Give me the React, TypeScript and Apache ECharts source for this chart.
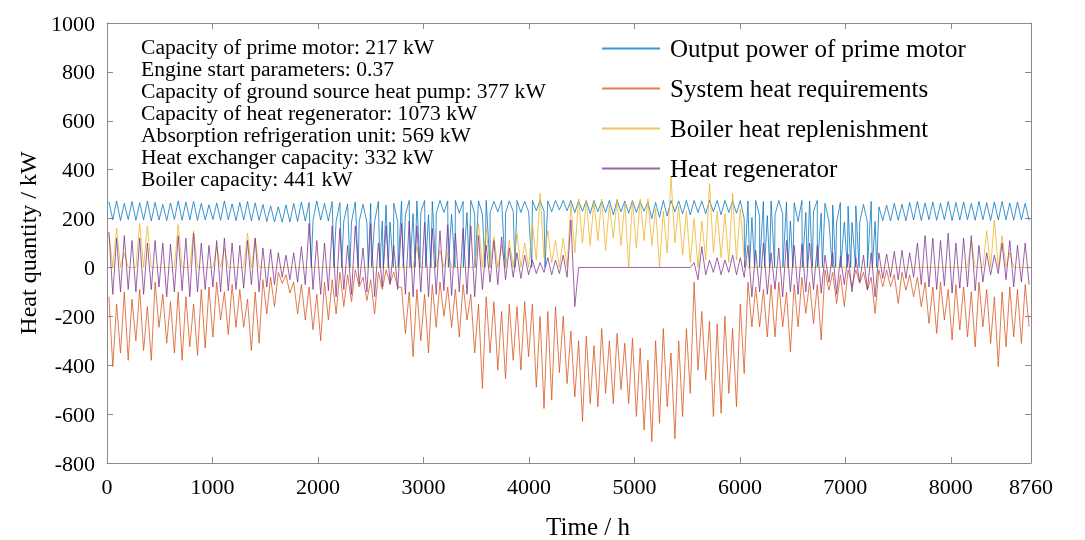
import React, { useEffect, useRef } from "react";
import * as echarts from "echarts";

// Each year is read in 120 segments of 73 h: one daily-peak value and one daily-trough value per segment.
const SEG_HOURS = 73;
const X_TICKS = [0, 1000, 2000, 3000, 4000, 5000, 6000, 7000, 8000, 8760];
const SERIES_NAMES = [
  "Output power of prime motor",
  "System heat requirements",
  "Boiler heat replenishment",
  "Heat regenerator",
];
const NOTES = [
  "Capacity of prime motor: 217 kW",
  "Engine start parameters: 0.37",
  "Capacity of ground source heat pump: 377 kW",
  "Capacity of heat regenerator: 1073 kW",
  "Absorption refrigeration unit: 569 kW",
  "Heat exchanger capacity: 332 kW",
  "Boiler capacity: 441 kW",
];

const blueHigh = [
  268, 272, 262, 270, 265, 272, 266, 258, 264, 272, 268, 270, 262, 256, 264, 272, 260, 266, 270, 264,
  258, 252, 248, 256, 262, 268, 266, 272, 262, 270,
  265, 260, 268, 258, 262, 270, 255, 262, 272, 274, 272, 274, 270, 274, 272, 274, 270, 274, 272, 274,
  270, 274, 272, 274, 270, 274, 274, 272, 274, 274,
  274, 272, 274, 274, 272, 274, 274, 272, 274, 270, 268, 266, 274, 274, 272, 274, 274, 272, 274, 274,
  274, 272, 274, 272, 274, 270, 272, 274, 268, 265,
  274, 272, 274, 262, 255, 265, 250, 252, 258, 270, 248, 255, 262, 258, 266, 270, 264, 268, 262, 270,
  266, 268, 262, 270, 265, 268, 270, 264, 268, 262,
];
const blueLow = [
  195, 192, 196, 193, 195, 190, 194, 192, 196, 193, 195, 192, 195, 196, 193, 195, 192, 194, 190, 193,
  188, 186, 185, 186, 188, 190, 192, 194, 190, 188,
  190, 186, 188, 185, 187, 190, 186, 188, 215, 220, 225, 215, 220, 225, 218, 222, 225, 220, 218, 225,
  228, 222, 230, 225, 228, 232, 230, 228, 235, 232,
  225, 230, 220, 228, 225, 215, 228, 222, 225, 230, 200, 205, 210, 228, 220, 215, 225, 220, 228, 215,
  225, 222, 200, 205, 210, 212, 215, 220, 190, 188,
  225, 230, 222, 190, 186, 185, 184, 186, 185, 188, 192, 190, 193, 191, 194, 192, 195, 193, 195, 192,
  194, 195, 193, 195, 192, 194, 195, 193, 195, 192,
];
// hours at which the prime motor is switched off (output drops to 0)
const blueOffHours = [
  1936, 2151, 2224, 2303, 2382, 2477, 2508, 2587, 2619, 2666, 2714, 2761, 2809, 2872, 2920, 2967,
  3021, 3071, 3116, 3236, 3299, 3378, 3432, 3489, 3584, 3631, 3774, 3868, 4027, 4153,
  6045, 6092, 6140, 6187, 6234, 6282, 6329, 6408, 6456, 6503, 6592, 6639, 6687, 6734, 6782,
  6876, 6908, 6956, 7019, 7050, 7098, 7130, 7209, 7256, 7297,
];

const orangeHigh = [
  -120, -150, -100, -130, -90, -160, -60, -110, -140, -100, -120, -150, -90, -80, -60, -100, -70, -90, -130, -100,
  -50, -40, -20, -30, -60, -70, -80, -110, -60, -50,
  -20, -30, -10, -40, -50, -20, -10, -20, -80, -100, -90, -110, -70, -60, -80, -90, -70, -110, -150, -120,
  -140, -180, -150, -160, -140, -150, -200, -180, -160, -200,
  -260, -300, -280, -320, -250, -300, -270, -310, -290, -330, -380, -300, -250, -350, -300, -250, -60, -180, -220, -230,
  -200, -250, -150, -60, -80, -90, -70, -60, -100, -70,
  -40, -60, -70, -10, -20, -30, -10, -10, -20, -40, -10, -10, -30, -20, -30, -40, -60, -80, -60, -90,
  -70, -80, -100, -60, -90, -120, -100, -80, -90, -70,
];
const orangeLow = [
  -405, -350, -380, -300, -340, -380, -245, -310, -350, -380, -325, -360, -330, -285, -215, -275, -245, -245, -340, -310,
  -190, -160, -65, -105, -190, -215, -255, -300, -215, -190,
  -160, -140, -80, -135, -190, -90, -65, -80, -270, -365, -300, -350, -245, -200, -245, -285, -215, -350, -495, -350,
  -420, -455, -380, -420, -365, -490, -577, -543, -430, -475,
  -530, -630, -557, -570, -515, -557, -500, -557, -610, -665, -713, -638, -570, -700, -610, -515, -420, -460, -610, -597,
  -515, -570, -434, -243, -243, -284, -284, -243, -345, -243,
  -188, -230, -297, -93, -147, -160, -79, -65, -93, -188, -79, -79, -147, -93, -120, -160, -229, -270, -215, -297,
  -256, -284, -325, -243, -311, -406, -325, -284, -311, -243,
];

const yellowHigh = [
  140, 160, 60, 0, 180, 170, 0, 0, 0, 175, 0, 150, 0, 0, 85, 80, 0, 0, 140, 120,
  0, 0, 0, 0, 0, 0, 0, 0, 0, 0,
  0, 0, 0, 0, 0, 0, 0, 0, 0, 0, 85, 0, 0, 70, 60, 0, 0, 0, 180, 160,
  125, 90, 110, 140, 100, 180, 303, 150, 110, 120,
  260, 280, 275, 270, 280, 255, 280, 265, 275, 280, 280, 240, 230, 371, 250, 230, 200, 190, 343, 230,
  220, 303, 240, 0, 0, 0, 0, 0, 0, 0,
  0, 0, 0, 0, 0, 0, 0, 0, 0, 0, 0, 0, 0, 0, 0, 0, 0, 0, 0, 0,
  0, 0, 110, 0, 150, 194, 130, 60, 0, 0,
];
const yellowLow = [
  0, 0, 0, 0, 0, 0, 0, 0, 0, 0, 0, 0, 0, 0, 0, 0, 0, 0, 0, 0,
  0, 0, 0, 0, 0, 0, 0, 0, 0, 0,
  0, 0, 0, 0, 0, 0, 0, 0, 0, 0, 0, 0, 0, 0, 0, 0, 0, 0, 0, 0,
  0, 0, 0, 0, 0, 30, 40, 20, 0, 0,
  60, 100, 90, 110, 70, 120, 90, 0, 80, 110, 90, 0, 60, 100, 50, 20, 0, 30, 60, 40,
  20, 30, 40, 0, 0, 0, 0, 0, 0, 0,
  0, 0, 0, 0, 0, 0, 0, 0, 0, 0, 0, 0, 0, 0, 0, 0, 0, 0, 0, 0,
  0, 0, 0, 0, 0, 0, 0, 0, 0, 0,
];

const purpleHigh = [
  145, 120, 130, 110, 120, 100, 110, 100, 95, 130, 120, 140, 100, 90, 110, 120, 100, 90, 110, 120,
  80, 75, 60, 50, 60, 85, 180, 110, 100, 170,
  160, 90, 170, 80, 180, 100, 170, 90, 180, 190, 170, 185, 160, 150, 175, 140, 160, 170, 130, 90,
  110, 125, 80, 60, 50, 30, 20, 40, 30, 50,
  194, 0, 0, 0, 0, 0, 0, 0, 0, 0, 0, 0, 0, 0, 0, 0, 20, 85, 30, 40,
  30, 50, 40, 90, 70, 100, 60, 80, 110, 90,
  95, 100, 90, 50, 60, 45, 55, 40, 50, 60, 60, 55, 65, 70, 60, 100, 130, 120, 110, 140,
  100, 120, 130, 90, 60, 50, 100, 110, 90, 100,
];
const purpleLow = [
  -110, -100, -90, -100, -110, -90, -80, -120, -100, -95, -120, -100, -90, -80, -100, -95, -90, -85, -70, -100,
  -80, -70, -40, -50, -60, -70, -90, -110, -95, -120,
  -90, -110, -70, -100, -120, -80, -70, -90, -110, -120, -100, -120, -110, -95, -115, -100, -110, -120, -90, -60,
  -70, -50, -40, -45, -30, -25, -20, -30, -25, -40,
  -160, 0, 0, 0, 0, 0, 0, 0, 0, 0, 0, 0, 0, 0, 0, 0, -50, -30, -20, -30,
  -20, -30, -40, -120, -100, -110, -90, -120, -100, -110,
  -100, -90, -105, -60, -110, -70, -100, -60, -90, -120, -45, -40, -50, -45, -40, -70, -80, -90, -75, -105,
  -85, -80, -95, -60, -30, -25, -50, -80, -60, -70,
];

const COLORS = ["#0072BD", "#D95319", "#EDB120", "#7E2F8E"];
const FONT = '"Liberation Serif", "Times New Roman", serif';
const AXIS_COLOR = "#8a8a8a";

function zigzag(high: number[], low: number[], extra: number[][] = []): number[][] {
  const pts: number[][] = [];
  for (let i = 0; i < high.length; i++) {
    pts.push([i * SEG_HOURS + 18, high[i]]);
    pts.push([i * SEG_HOURS + 55, low[i]]);
  }
  return pts.concat(extra).sort((a, b) => a[0] - b[0]);
}

export default function App() {
  const ref = useRef<HTMLDivElement>(null);
  useEffect(() => {
    const chart = echarts.init(ref.current!, null, { renderer: "svg" });
    const data = [
      zigzag(blueHigh, blueLow, blueOffHours.map((h) => [h, 0])),
      zigzag(orangeHigh, orangeLow),
      zigzag(yellowHigh, yellowLow),
      zigzag(purpleHigh, purpleLow),
    ];
    const axisCommon = {
      axisLine: { show: true, onZero: false, lineStyle: { color: AXIS_COLOR, width: 1 } },
      axisTick: { show: true, inside: true, length: 6, lineStyle: { color: AXIS_COLOR } },
      splitLine: { show: false },
    };
    chart.setOption({
      animation: false,
      grid: { left: 107, right: 54, top: 23, bottom: 77, containLabel: false, outerBoundsMode: "none" },
      legend: {
        data: SERIES_NAMES.map((name, k) => ({ name, itemStyle: { color: COLORS[k], opacity: 0.75 } })),
        orient: "vertical",
        left: 602,
        top: 36,
        padding: 0,
        itemWidth: 58,
        itemHeight: 2,
        itemGap: 15,
        icon: "rect",
        textStyle: { fontFamily: FONT, fontSize: 25, color: "#000", lineHeight: 25, padding: [0, 0, 0, 5] },
      },
      graphic: [
        {
          type: "text",
          left: 141,
          top: 36,
          style: {
            text: NOTES.join("\n"),
            font: `21.6px ${FONT}`,
            lineHeight: 22,
            fill: "#000",
          },
        },
      ],
      xAxis: [
        {
          type: "value",
          min: 0,
          max: 8760,
          interval: 1000,
          position: "bottom",
          name: "Time / h",
          nameLocation: "middle",
          nameGap: 51,
          nameTextStyle: { fontFamily: FONT, fontSize: 25, color: "#000", padding: [0, 0, 0, 38] },
          axisLabel: {
            fontFamily: FONT,
            fontSize: 22,
            color: "#000",
            margin: 12,
            formatter: (v: number) => (X_TICKS.includes(v) ? String(v) : ""),
          },
          ...axisCommon,
        },
        {
          type: "value",
          min: 0,
          max: 8760,
          interval: 1000,
          position: "top",
          axisLabel: { show: false },
          ...axisCommon,
        },
      ],
      yAxis: [
        {
          type: "value",
          min: -800,
          max: 1000,
          interval: 200,
          position: "left",
          name: "Heat quantity / kW",
          nameLocation: "middle",
          nameGap: 67,
          nameRotate: 90,
          nameTextStyle: { fontFamily: FONT, fontSize: 24, color: "#000" },
          axisLabel: { fontFamily: FONT, fontSize: 22, color: "#000", margin: 12, formatter: (v: number) => String(v) },
          ...axisCommon,
        },
        {
          type: "value",
          min: -800,
          max: 1000,
          interval: 200,
          position: "right",
          axisLabel: { show: false },
          ...axisCommon,
        },
      ],
      series: SERIES_NAMES.map((name, k) => ({
        name,
        type: "line",
        xAxisIndex: 0,
        yAxisIndex: 0,
        data: data[k],
        showSymbol: false,
        symbol: "none",
        color: COLORS[k],
        lineStyle: { color: COLORS[k], width: 0.9, opacity: 0.85 },
        emphasis: { disabled: true },
      })),
    });
    return () => chart.dispose();
  }, []);
  return <div ref={ref} style={{ position: "fixed", left: 0, top: 0, width: 1085, height: 540 }} />;
}
